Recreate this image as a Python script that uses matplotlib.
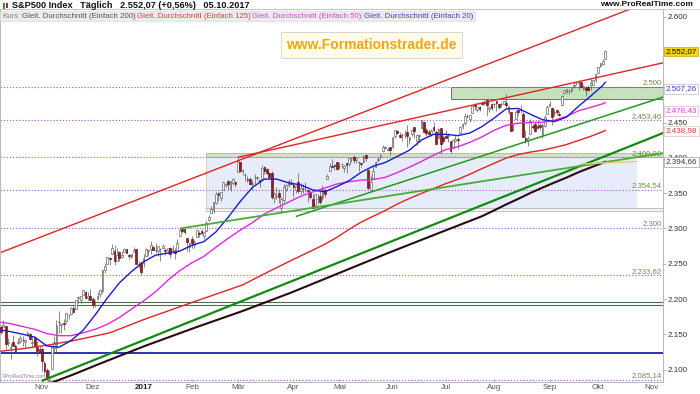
import numpy as np
import pandas as pd
import matplotlib
matplotlib.use("Agg")
import matplotlib.pyplot as plt
from matplotlib.patches import Rectangle
import matplotlib.transforms as mtransforms

plt.rcParams['font.family'] = ['Liberation Sans', 'DejaVu Sans']

# S&P500 Tageskerzen 07.10.2016 - 05.10.2017
opens = [
    2159.73, 2160.39, 2161.35, 2137.67, 2130.26, 2139.68, 2132.95, 2138.31, 2140.81, 2142.51, 2139.43, 2148.50, 2149.72, 2136.97, 2144.06, 2132.23, 2129.78,
    2128.68, 2109.43, 2098.80, 2083.79, 2100.59, 2129.92, 2131.56, 2167.49, 2162.71, 2165.64, 2168.29, 2177.53, 2178.61, 2186.85, 2186.43, 2201.56, 2198.55, 2206.27, 2210.21, 2200.76, 2204.97,
    2200.17, 2191.12, 2200.65, 2207.26, 2210.72, 2241.13, 2249.73, 2258.83, 2263.32, 2268.35, 2253.77, 2266.81, 2259.24, 2266.50, 2270.54, 2262.93, 2260.25, 2266.23, 2270.23, 2249.50, 2251.61,
    2251.57, 2261.60, 2268.18, 2271.14, 2273.59, 2269.72, 2268.60, 2271.14, 2272.74, 2269.14, 2269.14, 2271.90, 2269.96, 2267.78, 2267.88, 2288.88, 2298.63, 2299.02, 2286.01, 2274.02,
    2285.59, 2276.69, 2288.54, 2294.28, 2295.87, 2289.55, 2296.70, 2312.27, 2321.72, 2326.12, 2335.58, 2349.64, 2343.01, 2354.91, 2361.11, 2367.50, 2355.73, 2365.23, 2366.08,
    2380.13, 2394.75, 2380.92, 2375.23, 2370.74, 2369.81, 2363.49, 2372.52, 2371.56, 2368.55, 2370.34, 2387.71, 2383.71, 2378.24, 2379.32, 2343.00, 2345.97, 2350.42, 2329.11, 2339.79, 2356.54, 2361.31, 2364.82,
    2362.34, 2354.76, 2366.59, 2353.79, 2356.59, 2357.16, 2353.92, 2352.15, 2341.98, 2332.62, 2342.53, 2346.79, 2342.69, 2354.74, 2370.33, 2381.51, 2388.98, 2389.70, 2393.68,
    2388.50, 2391.05, 2386.50, 2393.16, 2391.43, 2399.94, 2401.58, 2396.79, 2394.84, 2392.44, 2393.98, 2404.55, 2382.95, 2354.69, 2371.37, 2387.21, 2397.04, 2401.41, 2409.54, 2414.50, 2411.67, 2415.63,
    2415.65, 2431.28, 2437.83, 2431.92, 2432.03, 2434.27, 2436.39, 2425.88, 2434.15, 2443.75, 2424.14, 2431.24, 2442.55, 2450.66, 2439.31, 2437.40, 2434.65, 2443.32, 2436.34, 2428.70, 2442.38, 2429.20,
    2431.39, 2430.78, 2423.44, 2413.52, 2424.51, 2427.35, 2435.75, 2444.99, 2449.16, 2459.50, 2455.88, 2463.85, 2475.56, 2467.40, 2472.04, 2477.88, 2479.97, 2482.76, 2469.12, 2475.94,
    2477.10, 2480.38, 2476.03, 2476.88, 2477.14, 2478.35, 2465.35, 2465.38, 2441.04, 2454.96, 2468.66, 2468.63, 2462.95, 2427.64, 2425.50, 2433.75, 2444.88, 2447.91, 2444.72, 2447.35, 2431.94, 2446.06, 2462.65,
    2474.42, 2470.35, 2463.83, 2468.06, 2462.25, 2474.52, 2491.94, 2493.89, 2494.56, 2495.67, 2502.51, 2506.29, 2506.84, 2507.16, 2497.26, 2499.39, 2501.04, 2503.30, 2503.41, 2510.42,
    2521.20, 2530.34, 2533.48, 2540.86]
highs = [
    2162.93, 2169.60, 2161.56, 2145.36, 2138.19, 2149.19, 2135.61, 2144.38, 2148.44, 2147.18, 2142.63, 2154.79, 2151.44, 2145.73, 2147.13, 2140.72, 2133.25,
    2131.45, 2111.76, 2102.56, 2099.07, 2132.00, 2146.87, 2170.10, 2182.30, 2165.92, 2171.36, 2180.84, 2179.22, 2188.06, 2189.89, 2198.70, 2204.80, 2204.72, 2213.35, 2211.14, 2210.46, 2214.10,
    2202.60, 2197.95, 2209.42, 2212.78, 2241.63, 2251.69, 2259.80, 2258.99, 2277.53, 2276.20, 2272.12, 2268.05, 2267.47, 2272.56, 2271.23, 2263.18, 2263.79, 2273.82, 2271.31, 2254.51, 2253.58,
    2263.88, 2272.82, 2271.50, 2282.10, 2275.49, 2279.27, 2275.32, 2271.78, 2278.68, 2272.08, 2272.01, 2274.33, 2276.96, 2271.78, 2284.63, 2299.55, 2300.99, 2299.02, 2286.01, 2279.09,
    2289.14, 2283.97, 2298.31, 2296.18, 2299.40, 2295.91, 2311.08, 2319.23, 2331.58, 2337.58, 2351.30, 2351.31, 2351.16, 2366.71, 2365.13, 2368.26, 2367.34, 2371.54, 2367.79,
    2400.98, 2394.75, 2383.89, 2378.80, 2375.12, 2373.09, 2369.08, 2376.86, 2374.42, 2368.55, 2390.01, 2388.10, 2385.71, 2379.55, 2381.93, 2351.81, 2358.92, 2356.22, 2344.90, 2363.78, 2363.36, 2370.42, 2370.35,
    2365.87, 2360.53, 2378.36, 2364.16, 2363.76, 2366.37, 2355.22, 2352.72, 2348.26, 2349.14, 2348.35, 2352.63, 2361.37, 2356.18, 2376.98, 2392.48, 2398.16, 2392.10, 2393.68,
    2394.49, 2392.93, 2389.82, 2393.16, 2399.29, 2401.36, 2403.87, 2399.74, 2395.72, 2392.44, 2404.05, 2405.77, 2384.87, 2375.74, 2389.06, 2395.46, 2400.85, 2405.58, 2418.71, 2416.68, 2415.26, 2415.99,
    2430.06, 2440.23, 2439.55, 2436.21, 2435.28, 2439.27, 2446.20, 2430.38, 2441.49, 2443.75, 2433.95, 2433.15, 2453.82, 2450.66, 2442.23, 2441.62, 2441.40, 2450.42, 2440.15, 2442.97, 2442.73, 2432.71,
    2439.17, 2434.90, 2424.28, 2426.92, 2432.00, 2429.30, 2445.76, 2449.32, 2463.54, 2462.82, 2460.92, 2473.83, 2477.62, 2472.54, 2473.10, 2481.24, 2481.69, 2484.04, 2473.53, 2477.96,
    2478.51, 2480.38, 2476.03, 2480.00, 2480.95, 2490.87, 2474.41, 2465.38, 2448.09, 2468.22, 2468.90, 2474.93, 2465.02, 2440.27, 2430.58, 2454.77, 2448.91, 2450.39, 2453.96, 2449.12, 2449.19, 2460.31, 2475.01,
    2480.38, 2471.97, 2469.64, 2468.62, 2467.11, 2488.95, 2496.77, 2498.37, 2498.43, 2500.23, 2508.32, 2507.84, 2508.85, 2507.16, 2503.47, 2502.54, 2503.51, 2511.75, 2510.81, 2519.44,
    2529.23, 2535.13, 2540.53, 2552.51]
lows = [
    2150.28, 2160.39, 2128.84, 2132.77, 2114.72, 2132.98, 2124.43, 2135.49, 2138.15, 2133.44, 2130.09, 2146.91, 2141.93, 2131.59, 2132.52, 2119.36, 2125.53,
    2097.85, 2094.00, 2085.23, 2083.79, 2100.59, 2123.56, 2125.35, 2151.17, 2152.49, 2156.08, 2166.38, 2172.20, 2176.65, 2180.38, 2186.43, 2194.51, 2194.51, 2206.27, 2200.36, 2198.15, 2198.81,
    2187.44, 2188.37, 2199.97, 2202.21, 2208.93, 2237.57, 2249.23, 2248.56, 2263.32, 2248.44, 2253.77, 2254.24, 2258.21, 2266.14, 2265.15, 2256.08, 2258.84, 2266.15, 2249.11, 2244.56, 2233.62,
    2245.13, 2261.60, 2260.45, 2264.06, 2268.90, 2265.27, 2260.83, 2254.25, 2271.51, 2262.81, 2263.35, 2258.41, 2265.01, 2257.02, 2266.68, 2288.88, 2294.08, 2291.62, 2268.04, 2267.21,
    2272.44, 2271.65, 2287.88, 2288.57, 2290.16, 2285.38, 2296.61, 2311.10, 2321.42, 2322.17, 2334.81, 2338.87, 2339.58, 2354.91, 2358.34, 2355.09, 2352.87, 2361.87, 2358.96,
    2380.13, 2380.17, 2375.39, 2367.98, 2365.51, 2361.01, 2354.54, 2363.04, 2368.52, 2358.18, 2368.94, 2377.18, 2377.64, 2369.66, 2341.90, 2336.45, 2342.13, 2335.74, 2322.25, 2337.63, 2352.94, 2358.58, 2362.60,
    2344.73, 2350.72, 2350.52, 2348.90, 2350.74, 2351.50, 2337.25, 2341.18, 2328.95, 2332.51, 2334.54, 2335.05, 2340.91, 2344.51, 2370.33, 2381.15, 2386.78, 2382.68, 2382.36,
    2384.83, 2385.82, 2379.75, 2378.55, 2389.11, 2393.92, 2392.44, 2392.79, 2381.74, 2387.19, 2393.94, 2396.05, 2356.21, 2352.72, 2370.43, 2386.92, 2393.88, 2397.99, 2408.01, 2412.20, 2409.43, 2403.59,
    2413.54, 2427.71, 2434.32, 2428.12, 2424.75, 2427.94, 2415.70, 2419.97, 2431.28, 2428.34, 2418.53, 2422.88, 2441.79, 2436.60, 2430.74, 2433.27, 2431.11, 2437.03, 2419.38, 2428.02, 2405.70, 2421.65,
    2428.69, 2422.05, 2407.70, 2413.52, 2422.27, 2412.79, 2435.75, 2441.69, 2446.69, 2457.16, 2450.34, 2463.85, 2468.43, 2465.06, 2466.32, 2474.91, 2474.94, 2459.93, 2464.66, 2468.53,
    2471.14, 2466.48, 2468.85, 2472.08, 2475.88, 2470.32, 2462.08, 2437.75, 2437.85, 2454.96, 2461.61, 2463.86, 2430.01, 2420.69, 2417.35, 2433.67, 2441.42, 2436.19, 2442.22, 2439.03, 2428.20, 2443.77, 2462.65,
    2473.85, 2446.55, 2459.20, 2460.29, 2459.40, 2474.52, 2490.37, 2492.14, 2491.35, 2493.16, 2499.92, 2503.19, 2496.67, 2499.00, 2496.54, 2488.03, 2495.12, 2495.91, 2502.93, 2507.99,
    2520.40, 2528.85, 2531.80, 2540.02]
closes = [
    2153.74, 2163.66, 2136.73, 2139.18, 2132.55, 2132.98, 2126.50, 2139.60, 2144.29, 2141.34, 2141.16, 2151.33, 2143.16, 2139.43, 2133.04, 2126.41, 2126.15,
    2111.72, 2097.94, 2088.66, 2085.18, 2131.52, 2139.56, 2163.26, 2167.48, 2164.45, 2164.20, 2180.39, 2176.94, 2187.12, 2181.90, 2198.18, 2202.94, 2204.72, 2213.35, 2201.72, 2204.66, 2198.81,
    2191.08, 2191.95, 2204.71, 2212.23, 2241.35, 2246.19, 2259.53, 2256.96, 2271.72, 2253.28, 2262.03, 2258.07, 2262.53, 2270.76, 2265.18, 2260.96, 2263.79, 2268.88, 2249.92, 2249.26, 2238.83,
    2257.83, 2270.75, 2269.00, 2276.98, 2268.90, 2268.90, 2275.32, 2270.44, 2274.64, 2267.89, 2271.89, 2263.69, 2271.31, 2265.20, 2280.07, 2298.37, 2296.68, 2294.69, 2280.90, 2278.87,
    2279.55, 2280.85, 2297.42, 2292.56, 2293.08, 2294.67, 2307.87, 2316.10, 2328.25, 2337.58, 2349.25, 2347.22, 2351.16, 2365.38, 2362.82, 2363.81, 2367.34, 2369.75, 2363.64,
    2395.96, 2381.92, 2383.12, 2375.31, 2368.39, 2362.98, 2364.87, 2372.60, 2373.47, 2365.45, 2385.26, 2381.38, 2378.25, 2373.47, 2344.02, 2348.45, 2345.96, 2343.98, 2341.59, 2358.57, 2361.13, 2368.06, 2362.72,
    2358.84, 2360.16, 2352.95, 2357.49, 2355.54, 2357.16, 2353.78, 2344.93, 2328.95, 2349.01, 2342.19, 2338.17, 2355.84, 2348.69, 2374.15, 2388.61, 2387.45, 2388.77, 2384.20,
    2388.33, 2391.17, 2388.13, 2389.52, 2399.29, 2399.38, 2396.92, 2399.63, 2394.44, 2390.90, 2402.32, 2400.67, 2357.03, 2365.72, 2381.73, 2394.02, 2398.42, 2404.39, 2415.07, 2415.82, 2412.91, 2411.80,
    2430.06, 2439.07, 2436.10, 2429.33, 2433.14, 2433.79, 2431.77, 2429.39, 2440.35, 2437.92, 2432.46, 2433.15, 2453.46, 2437.03, 2435.61, 2434.50, 2438.30, 2439.07, 2419.38, 2440.69, 2419.70, 2423.41,
    2429.01, 2432.54, 2409.75, 2425.18, 2427.43, 2425.53, 2443.25, 2447.83, 2459.27, 2459.14, 2460.61, 2473.83, 2473.45, 2472.54, 2469.91, 2477.13, 2477.83, 2475.42, 2472.10, 2470.30,
    2476.35, 2477.57, 2472.16, 2476.83, 2480.91, 2474.92, 2474.02, 2438.21, 2441.32, 2465.84, 2464.61, 2468.11, 2430.01, 2425.55, 2428.37, 2452.51, 2444.04, 2438.97, 2443.05, 2444.24, 2446.30, 2457.59, 2471.65,
    2476.55, 2457.85, 2465.54, 2465.10, 2461.43, 2488.11, 2496.48, 2498.37, 2495.62, 2500.23, 2503.87, 2506.65, 2508.24, 2500.60, 2502.22, 2496.66, 2496.84, 2507.04, 2510.06, 2519.36,
    2529.12, 2534.58, 2537.74, 2552.07]

holidays = ['2016-11-24', '2016-12-26', '2017-01-02', '2017-01-16', '2017-02-20',
            '2017-04-14', '2017-05-29', '2017-07-04', '2017-09-04']
month_names = ['Nov', 'Dez', '2017', 'Feb', 'Mär', 'Apr', 'Mai', 'Jun', 'Jul', 'Aug', 'Sep', 'Okt', 'Nov']

# gleitende Durchschnitte (Handelstag-Index, Wert)
sma20_x = [0, 4, 9, 14, 19, 24, 29, 34, 39, 44, 49, 54, 59, 64, 69, 74, 79, 84, 89, 94, 99, 104, 109, 114, 119, 124,
           129, 134, 139, 144, 149, 154, 159, 164, 169, 174, 179, 184, 189, 194, 199, 204, 209, 214, 219, 224, 229,
           234, 239, 244, 249, 250]
sma20_y = [2156.0, 2153.7, 2150.1, 2145.9, 2133.5, 2131.5, 2141.0, 2155.6, 2177.5, 2201.3, 2222.8, 2238.9, 2252.7,
           2262.2, 2265.1, 2267.9, 2276.2, 2281.4, 2295.3, 2315.9, 2338.3, 2358.1, 2370.1, 2370.1, 2364.8, 2361.7,
           2354.8, 2352.0, 2359.5, 2367.7, 2379.7, 2388.4, 2393.6, 2402.3, 2411.1, 2425.6, 2433.5, 2433.6, 2431.7,
           2435.4, 2444.5, 2456.5, 2469.6, 2470.3, 2462.1, 2454.4, 2451.7, 2458.0, 2473.5, 2487.8, 2502.9, 2507.26]
sma50_x = [0, 4, 9, 14, 19, 24, 29, 34, 39, 44, 49, 54, 59, 64, 69, 74, 79, 84, 89, 94, 99, 104, 109, 114, 119, 124,
           129, 134, 139, 144, 149, 154, 159, 164, 169, 174, 179, 184, 189, 194, 199, 204, 209, 214, 219, 224, 229,
           234, 239, 244, 249, 250]
sma50_y = [2167.0, 2165.0, 2161.0, 2157.0, 2151.0, 2148.0, 2148.0, 2152.0, 2157.0, 2164.0, 2173.7, 2185.6, 2197.2,
           2210.2, 2226.4, 2240.2, 2251.3, 2260.5, 2273.5, 2286.0, 2297.6, 2308.2, 2320.5, 2329.2, 2337.4, 2345.7,
           2351.9, 2357.4, 2363.1, 2366.4, 2368.5, 2369.5, 2372.5, 2379.3, 2387.0, 2395.1, 2404.0, 2411.9, 2415.9,
           2422.2, 2429.9, 2439.2, 2446.3, 2449.3, 2450.3, 2450.7, 2453.6, 2459.1, 2467.0, 2471.7, 2476.9, 2478.43]
sma125_x = [0, 10, 20, 30, 45, 60, 79, 100, 112, 124, 129, 134, 139, 144, 149, 154, 159, 164, 169, 174, 179, 184,
            189, 194, 199, 204, 209, 214, 219, 224, 229, 234, 239, 244, 249, 250]
sma125_y = [2126.0, 2130.0, 2135.0, 2141.0, 2152.0, 2172.0, 2195.0, 2220.0, 2241.0, 2261.2, 2269.3, 2277.7, 2287.4,
            2298.7, 2309.0, 2317.3, 2325.5, 2334.7, 2342.6, 2349.8, 2356.7, 2363.6, 2369.7, 2377.0, 2384.9, 2392.4,
            2399.8, 2405.0, 2408.3, 2411.0, 2414.8, 2419.1, 2424.9, 2430.7, 2437.4, 2438.98]
sma200_x = [0, 10, 20, 30, 40, 60, 80, 100, 120, 140, 160, 180, 199, 204, 209, 214, 219, 224, 229, 234, 239, 244,
            249, 250]
sma200_y = [2055.0, 2067.0, 2080.0, 2093.0, 2107.0, 2134.0, 2159.0, 2183.0, 2209.0, 2237.0, 2265.0, 2292.0, 2317.4,
            2325.6, 2334.1, 2342.0, 2350.3, 2357.9, 2365.2, 2372.2, 2379.9, 2386.6, 2393.2, 2394.66]

# horizontale Marken
dotted_levels = [2500, 2453.46, 2400.98, 2354.54, 2300, 2233.62, 2085.14]
green_levels = [2192.0, 2196.0]
blue_level = 2123.4

# Trendlinien: (x0, y0, x1, y1)
red_channel = (0, 2266.0, 262, 2613.5)
red_resist = (98, 2400.98, 274, 2535.0)
green_long = (17, 2084.0, 274, 2435.5)
green_upper = (122, 2317.0, 274, 2486.5)
green_tri = (74, 2300.0, 274, 2407.0)
tan_line = (240, 2391.5, 263, 2395.0)

# Zonen: (x0, x1, y0, y1)
box_range = (85, 263, 2328.95, 2400.98)
band_top = (85, 274, 2400.98, 2406.5)
band_bottom = (85, 274, 2325.5, 2328.95)
box_green = (186, 274, 2484.04, 2500.0)


def de_fmt(v):
    if abs(v - round(v)) < 1e-9:
        return f"{v:,.0f}".replace(',', '.')
    s = f"{v:,.2f}"
    return s.replace(',', 'X').replace('.', ',').replace('X', '.')


days = pd.bdate_range('2016-10-07', '2017-11-10')
days = days[~days.isin(pd.to_datetime(holidays))]
month_pos = [i for i in range(1, len(days)) if days[i].month != days[i - 1].month][:len(month_names)]

W, H = 700, 394
fig = plt.figure(figsize=(7, 3.94), dpi=100)
ax = fig.add_axes([0, 12 / H, 663 / W, 373 / H])
xmin, xmax = -0.37, 273.9
ymin, ymax = 2082.3, 2611.3
ax.set_xlim(xmin, xmax)
ax.set_ylim(ymin, ymax)

# Zonen
x0, x1, y0, y1 = box_range
ax.add_patch(Rectangle((x0, y0), x1 - x0, y1 - y0, fc='#e7ecfa', ec='none', zorder=1))
ax.plot([x0, x0], [y0, y1], color='#e6d2a8', lw=0.8, zorder=1.1)
x0, x1, y0, y1 = band_top
ax.add_patch(Rectangle((x0, y0), x1 - x0, y1 - y0, fc='#cfe2c6', ec='#9aaa98', lw=0.5, zorder=1.2))
x0, x1, y0, y1 = band_bottom
ax.add_patch(Rectangle((x0, y0), x1 - x0, y1 - y0, fc='#f4f4f4', ec='#a8a8a8', lw=0.5, zorder=1.2))
x0, x1, y0, y1 = box_green
ax.add_patch(Rectangle((x0, y0), x1 - x0, y1 - y0, fc='#c6e2bd', ec='#707070', lw=0.7, zorder=1.2))

# horizontale Linien
for lv in dotted_levels:
    ax.axhline(lv, color='#b56ad8', lw=0.8, ls=(0, (1.2, 1.6)), zorder=1.5)
    ax.text(xmax - 0.6, lv + 1.0, de_fmt(lv), ha='right', va='bottom', fontsize=5.6,
            color='#6f8f4f', zorder=2)
for lv in green_levels:
    ax.axhline(lv, color='#4c6e4c', lw=0.8, zorder=1.5)
ax.axhline(blue_level, color='#0c0ca8', lw=1.2, zorder=1.5)

# Kerzen
idx = np.arange(len(closes))
o = np.array(opens)
h = np.array(highs)
l = np.array(lows)
c = np.array(closes)
up = c >= o
ax.vlines(idx, l, h, color='#5a5a5a', lw=0.5, zorder=3)
ax.bar(idx[up], (c - o)[up], bottom=o[up], width=0.72, color='white', edgecolor='#5a5a5a',
       linewidth=0.45, zorder=4)
ax.bar(idx[~up], (o - c)[~up], bottom=c[~up], width=0.72, color='#9c1a1a', edgecolor='#5a1010',
       linewidth=0.45, zorder=4)

# gleitende Durchschnitte
ax.plot(sma200_x, sma200_y, color='#2a0c0c', lw=1.5, zorder=5)
ax.plot(sma125_x, sma125_y, color='#e02424', lw=1.0, zorder=5)
ax.plot(sma50_x, sma50_y, color='#e028e0', lw=1.0, zorder=5)
ax.plot(sma20_x, sma20_y, color='#1a1ad0', lw=1.0, zorder=5)

# Trendlinien
for ln, col, lw in [(red_channel, '#e02424', 1.0), (red_resist, '#e02424', 1.0),
                    (green_long, '#128a12', 1.6), (green_upper, '#229a22', 1.1),
                    (green_tri, '#46ad36', 1.3), (tan_line, '#f0c878', 1.0)]:
    ax.plot([ln[0], ln[2]], [ln[1], ln[3]], color=col, lw=lw, zorder=6, solid_capstyle='butt')

# Achsen
ax.yaxis.tick_right()
yt = np.arange(2100, 2601, 50)
ax.set_yticks(yt)
# 2.550 liegt komplett unter der Kursmarke
ax.set_yticklabels(['' if v == 2550 else de_fmt(v) for v in yt])
ax.tick_params(axis='y', labelsize=5.8, labelcolor='#333333', color='#999999', length=2, pad=1.5, width=0.5)
ax.set_xticks(month_pos)
ax.set_xticklabels(month_names)
ax.tick_params(axis='x', labelsize=5.8, labelcolor='#555555', color='#aaaaaa', length=2, pad=1.5,
               width=0.5, direction='in')
ax.get_xticklabels()[2].set_fontweight('bold')
ax.get_xticklabels()[2].set_color('#222222')
for sp in ax.spines.values():
    sp.set_color('#b8b8b8')
    sp.set_linewidth(0.7)

# Wertemarken rechts
trans = mtransforms.blended_transform_factory(ax.transAxes, ax.transData)
tags = [(2552.07, 2551.0, '#111111', '#f6d40c', '#c8a800'),
        (2507.26, 2498.0, '#3a3ad6', 'white', '#b8b8d8'),
        (2478.43, 2467.0, '#e03ce0', 'white', '#dcb8dc'),
        (2438.98, 2438.5, '#e03838', 'white', '#e0c0c0'),
        (2394.66, 2394.3, '#333333', 'white', '#a0a0a0')]
for val, ypos, tc, fc, ec in tags:
    ax.text(1.004, ypos, de_fmt(val), transform=trans, ha='left', va='center', fontsize=5.8,
            color=tc, clip_on=False, zorder=10,
            bbox=dict(boxstyle='square,pad=0.18', fc=fc, ec=ec, lw=0.5))

# Kopfzeile
fig.add_artist(plt.Line2D([0, 1], [1 - 9 / H, 1 - 9 / H], color='#c8c8c8', lw=0.6))
fig.add_artist(Rectangle((3 / W, 1 - 9 / H), 2 / W, 6 / H, fc='#2a9a2a', ec='none'))
fig.add_artist(Rectangle((6 / W, 1 - 8 / H), 2 / W, 5 / H, fc='#c02020', ec='none'))
fig.text(12 / W, 1 - 5 / H, 'S&P500 Index   Täglich   2.552,07 (+0,56%)   05.10.2017',
         ha='left', va='center', fontsize=6.6, fontweight='bold', color='#111111')
fig.text(693 / W, 1 - 5 / H, 'www.ProRealTime.com', ha='right', va='center', fontsize=6.0,
         fontweight='bold', color='#111111')

legend = [('Kurs', 2, '#6f8f5f'),
          ('Gleit. Durchschnitt (Einfach 200)', 22, '#555555'),
          ('Gleit. Durchschnitt (Einfach 125)', 137, '#e03c3c'),
          ('Gleit. Durchschnitt (Einfach 50)', 252, '#e040e0'),
          ('Gleit. Durchschnitt (Einfach 20)', 364, '#4040e0')]
for txt, xp, col in legend:
    fig.text(xp / W, 1 - 16 / H, txt, ha='left', va='center', fontsize=5.7, color=col,
             bbox=dict(boxstyle='square,pad=0.22', fc='#ececec', ec='#d6d6d6', lw=0.4))

fig.text(371.5 / W, 1 - 45 / H, 'www.Formationstrader.de', ha='center', va='center', fontsize=10,
         fontweight='bold', color='#f2a414',
         bbox=dict(boxstyle='square,pad=0.4', fc='#fffde8', ec='#cfcfcf', lw=0.6))
fig.text(2 / W, 1 - 377 / H, '©ProRealTime.com', ha='left', va='center', fontsize=3.6, color='#888888')

fig.savefig('out.png', dpi=100)
